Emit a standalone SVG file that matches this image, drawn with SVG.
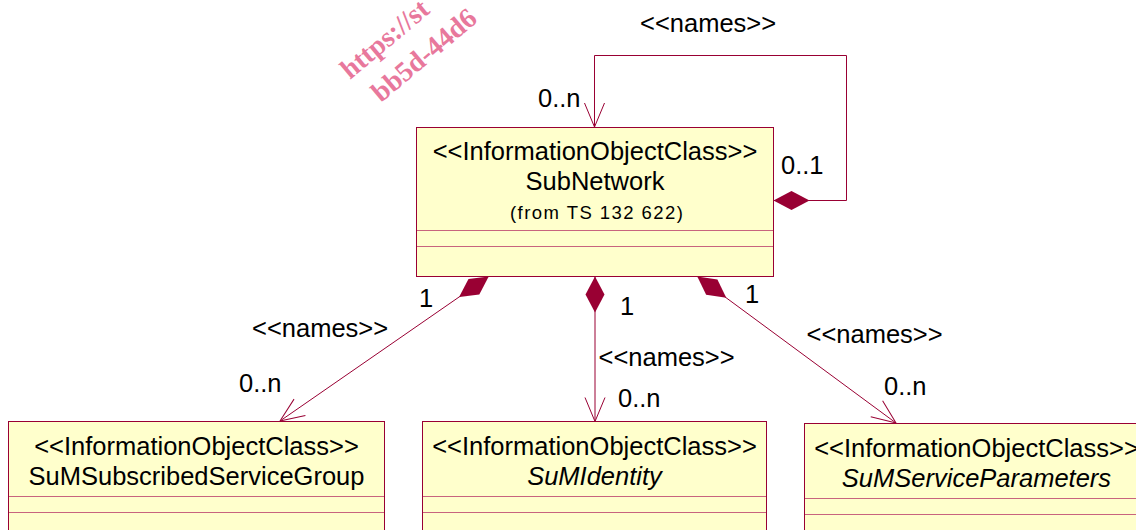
<svg xmlns="http://www.w3.org/2000/svg" width="1136" height="530" viewBox="0 0 1136 530">
<style>
.box{fill:#FFFFCC;stroke:#990033;stroke-width:1}
.dv{stroke:#c8647e;stroke-width:1}
.t{font-family:"Liberation Sans",Arial,sans-serif;font-size:25.5px;fill:#000}
.s{font-size:18.5px}
.c{text-anchor:middle}
.i{font-style:italic}
.conn{fill:none;stroke:#990033;stroke-width:1}
.wm{font-family:"Liberation Serif","Times New Roman",serif;font-weight:bold;font-size:28px;fill:#e8789c}
</style>
<defs>
<marker id="open" markerUnits="userSpaceOnUse" orient="auto" overflow="visible" refX="0" refY="0" markerWidth="1" markerHeight="1">
<path d="M-24,-10 L0,0 L-24,10" fill="none" stroke="#990033" stroke-width="1"/>
</marker>
<marker id="dia" markerUnits="userSpaceOnUse" orient="auto" overflow="visible" refX="0" refY="0" markerWidth="1" markerHeight="1">
<path d="M0,0 L18,-9.5 L36,0 L18,9.5 Z" fill="#990033"/>
</marker>
</defs>
<g id="watermark">
<text class="wm" transform="translate(350,80) rotate(-40)">https://st</text>
<text class="wm" transform="translate(381,103) rotate(-40)">bb5d-44d6</text>
</g>
<g id="connectors">
<path class="conn" d="M773.5,200.5 H846.5 V55.5 H594.5 V127" marker-start="url(#dia)" marker-end="url(#open)"/>
<path class="conn" d="M595,276.5 V421.5" marker-start="url(#dia)" marker-end="url(#open)"/>
<path class="conn" d="M488.7,276.5 L280,421" marker-start="url(#dia)" marker-end="url(#open)"/>
<path class="conn" d="M697.3,276.5 L896,423" marker-start="url(#dia)" marker-end="url(#open)"/>
<text class="t" x="640" y="32">&lt;&lt;names&gt;&gt;</text>
<text class="t" x="538" y="107">0..n</text>
<text class="t" x="781" y="174">0..1</text>
<text class="t" x="419" y="307">1</text>
<text class="t" x="620" y="315">1</text>
<text class="t" x="745" y="303">1</text>
<text class="t" x="252" y="337">&lt;&lt;names&gt;&gt;</text>
<text class="t" x="239" y="392">0..n</text>
<text class="t" x="598.5" y="366">&lt;&lt;names&gt;&gt;</text>
<text class="t" x="618" y="407">0..n</text>
<text class="t" x="806.5" y="343">&lt;&lt;names&gt;&gt;</text>
<text class="t" x="884" y="395">0..n</text>
</g>
<g id="SubNetwork">
<rect class="box" x="416.5" y="127.5" width="357" height="149"/>
<line class="dv" x1="417" y1="230.5" x2="773" y2="230.5"/>
<line class="dv" x1="417" y1="246.5" x2="773" y2="246.5"/>
<text class="t c" x="595" y="160">&lt;&lt;InformationObjectClass&gt;&gt;</text>
<text class="t c" x="595" y="190">SubNetwork</text>
<text class="t s" x="510" y="219" textLength="173" lengthAdjust="spacing">(from TS 132 622)</text>
</g>
<g id="SuMSubscribedServiceGroup">
<rect class="box" x="8.5" y="421.5" width="376" height="120"/>
<line class="dv" x1="9" y1="496.5" x2="384" y2="496.5"/>
<line class="dv" x1="9" y1="512.5" x2="384" y2="512.5"/>
<text class="t c" x="196.5" y="455">&lt;&lt;InformationObjectClass&gt;&gt;</text>
<text class="t c" x="196.5" y="485">SuMSubscribedServiceGroup</text>
</g>
<g id="SuMIdentity">
<rect class="box" x="422.5" y="421.5" width="344" height="120"/>
<line class="dv" x1="423" y1="496.5" x2="766" y2="496.5"/>
<line class="dv" x1="423" y1="512.5" x2="766" y2="512.5"/>
<text class="t c" x="594.5" y="455">&lt;&lt;InformationObjectClass&gt;&gt;</text>
<text class="t c i" x="594.5" y="485">SuMIdentity</text>
</g>
<g id="SuMServiceParameters">
<rect class="box" x="804.5" y="423.5" width="344" height="120"/>
<line class="dv" x1="805" y1="498.5" x2="1148" y2="498.5"/>
<line class="dv" x1="805" y1="514.5" x2="1148" y2="514.5"/>
<text class="t c" x="976.5" y="457">&lt;&lt;InformationObjectClass&gt;&gt;</text>
<text class="t c i" x="976.5" y="487">SuMServiceParameters</text>
</g>
</svg>
